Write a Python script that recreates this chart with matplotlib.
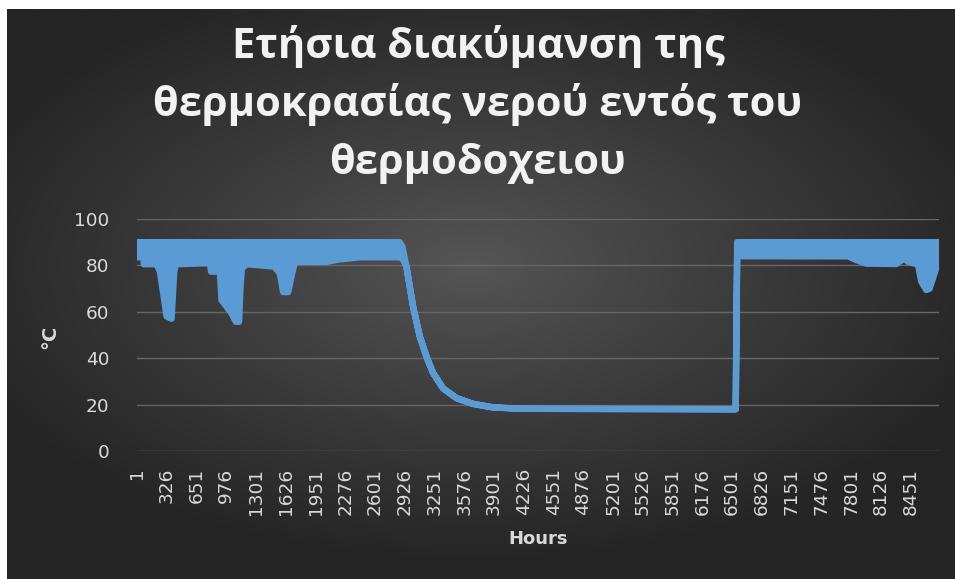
import numpy as np
import matplotlib
matplotlib.use("Agg")
import matplotlib.pyplot as plt
import matplotlib.patheffects as pe

# ---------------- data ----------------
title_lines = ["Ετήσια διακύμανση της", "θερμοκρασίας νερού εντός του", "θερμοδοχειου"]
x_label = "Hours"
y_label = "°C"
n_hours = 8760
tick_hours = [1, 326, 651, 976, 1301, 1626, 1951, 2276, 2601, 2926, 3251, 3576,
              3901, 4226, 4551, 4876, 5201, 5526, 5851, 6176, 6501, 6826, 7151,
              7476, 7801, 8126, 8451]
y_ticks = [0, 20, 40, 60, 80, 100]

# envelope of the hourly temperature trace (upper / lower bound at sample hours)
env_hours = [1, 69, 75, 215, 251, 324, 378, 407, 426, 797, 810, 906, 924, 979,
             1033, 1080, 1115, 1130, 1146, 1197, 1500, 1561, 1597, 1652, 1688,
             1725, 2071, 2200, 2434, 2871, 2900, 2944, 2980, 3017, 3090, 3163,
             3235, 3344, 3490, 3672, 3890, 4200, 6540, 6556, 7254, 7767, 7857,
             7966, 8294, 8384, 8417, 8530, 8567, 8621, 8657, 8694, 8730, 8760]
env_upper = [90, 90, 90, 90, 90, 90, 90, 90, 90, 90, 90, 90, 90, 90,
             90, 90, 90, 90, 90, 90, 90, 90, 90, 90, 90,
             90, 90, 90, 90, 90, 88, 79.4, 70.8, 62, 49.3, 40.6,
             33.6, 27, 22.8, 20.3, 18.8, 18.2, 18, 90, 90, 90, 90,
             90, 90, 90, 90, 90, 90, 90, 90, 90, 90, 90]
env_lower = [83.5, 83.5, 80.5, 80.5, 77.3, 58, 57, 77.3, 80.5, 81, 77.3, 77.3, 65, 62.2,
             59.3, 55.7, 55.7, 70, 78.7, 80.5, 79.5, 76.5, 68.5, 68.5, 75.2,
             81.5, 81.5, 82.5, 83.5, 83.5, 83, 79.4, 70.8, 62, 49.3, 40.6,
             33.6, 27, 22.8, 20.3, 18.8, 18.2, 18, 84, 83.9, 83.9, 82.3,
             80.8, 80.6, 83, 81.6, 80.4, 73, 69.4, 69.9, 74.4, 78.7, 80.4]

# ---------------- styling ----------------
W, H, DPI = 9.55, 5.79, 100
line_color = "#5B9BD5"
text_color = "#D9D9D9"
grid_color = "#666666"

fig = plt.figure(figsize=(W, H), dpi=DPI, facecolor="white")

# radial gradient background (chart area)
bg = fig.add_axes([7 / 955, 0, 948 / 955, 570 / 579])
bg.set_axis_off()
gx, gy = np.meshgrid(np.linspace(-1, 1, 600), np.linspace(-1, 1, 360))
cx, cy = -0.02, -0.1
r = np.sqrt(((gx - cx) / 1.15) ** 2 + ((gy - cy) / 1.05) ** 2)
r = np.clip(r, 0, 1)
c_in, c_out = 0x56 / 255, 0x25 / 255
val = c_in + (c_out - c_in) * r ** 0.9
img = np.dstack([val, val, val])
bg.imshow(img, aspect="auto", extent=[0, 1, 0, 1], origin="upper")
bg.set_xlim(0, 1)
bg.set_ylim(0, 1)

ax = fig.add_axes([137 / 955, (579 - 451) / 579, (939 - 137) / 955, (451 - 219) / 579])
ax.set_facecolor("none")

xs = list(env_hours) + list(env_hours[::-1])
ys = list(env_upper) + list(env_lower[::-1])
poly = ax.fill(xs, ys, facecolor=line_color, edgecolor=line_color, linewidth=4.6,
               joinstyle="round", zorder=3)[0]
poly.set_path_effects([pe.SimplePatchShadow(offset=(1.5, -1.5), shadow_rgbFace="black",
                                            alpha=0.55), pe.Normal()])

ax.set_xlim(0.5, n_hours + 0.5)
ax.set_ylim(0, 100)
ax.set_yticks(y_ticks)
ax.set_xticks(tick_hours)
ax.set_xticklabels([str(t) for t in tick_hours], rotation=90, va="top", ha="center")
ax.tick_params(axis="both", length=0, colors=text_color, labelsize=13.3)
ax.tick_params(axis="y", pad=20)
ax.tick_params(axis="x", pad=12)
for lab in ax.get_xticklabels() + ax.get_yticklabels():
    lab.set_color(text_color)
ax.yaxis.grid(True, color=grid_color, linewidth=1.0, zorder=0)
ax.set_axisbelow(True)
for s in ax.spines.values():
    s.set_visible(False)

fig.text(538 / 955, 1 - 539 / 579, x_label, color=text_color, fontsize=13,
         fontweight="bold", ha="center", va="center")
fig.text(50 / 955, 1 - 337 / 579, y_label, color=text_color, fontsize=14,
         fontweight="bold", ha="center", va="center", rotation=90)
for i, line in enumerate(title_lines):
    fig.text(478 / 955, 1 - (46 + 59 * i) / 579, line, color="#F2F2F2", fontsize=30,
             fontweight="bold", ha="center", va="center",
             family=["Open Sans", "DejaVu Sans"])

fig.savefig("out.png", dpi=DPI, facecolor="white")
